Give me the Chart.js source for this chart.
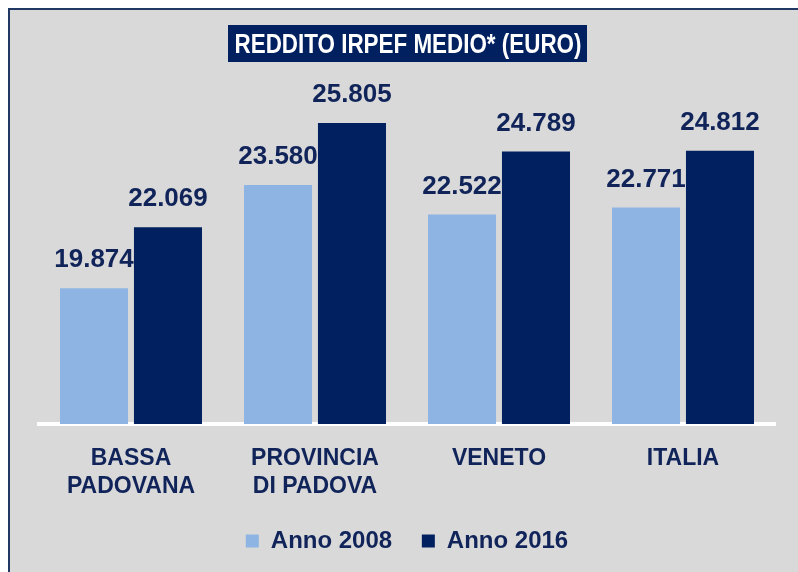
<!DOCTYPE html>
<html>
<head>
<meta charset="utf-8">
<script src="https://cdn.jsdelivr.net/npm/chart.js@4"></script>
<style>
  body { margin: 0; background: #fff; }
  #wrap { position: relative; width: 798px; height: 572px; overflow: hidden; }
  .frame {
    position: absolute; left: 8px; top: 8px; right: 0; bottom: 0;
    background: #d9d9d9;
    border-top: 2px solid #1f3864; border-left: 2px solid #1f3864;
  }
  .title {
    position: absolute; left: 228px; top: 25px; width: 359px; height: 37px;
    background: #002060; color: #fff;
    font: bold 27px "Liberation Sans", sans-serif;
    line-height: 38px; white-space: nowrap;
  }
  .title span {
    position: absolute; left: 50%; top: 0;
    transform: translateX(-50%) scaleX(0.83);
  }
  canvas { position: absolute; left: 0; top: 0; }
</style>
</head>
<body>
<div id="wrap">
  <div class="frame"></div>
  <canvas id="chart" width="798" height="572"></canvas>
  <div class="title"><span>REDDITO IRPEF MEDIO* (EURO)</span></div>
</div>
<script>
// ------ Data ------
const categories = [['BASSA', 'PADOVANA'], ['PROVINCIA', 'DI PADOVA'], 'VENETO', 'ITALIA'];
const anno2008 = [19874, 23580, 22522, 22771];
const anno2016 = [22069, 25805, 24789, 24812];
const seriesNames = ['Anno 2008', 'Anno 2016'];

const NAVY = '#002060';
const TEXT = '#10245a';
const FONT = '"Liberation Sans", Arial, sans-serif';

// 25805 -> "25.805"
function fmt(v){ return String(v).replace(/\B(?=(\d{3})+(?!\d))/g, '.'); }

// values over the bars
const valueLabels = {
  id: 'valueLabels',
  afterDatasetsDraw(chart) {
    const ctx = chart.ctx;
    ctx.save();
    ctx.font = 'bold 26px ' + FONT;
    ctx.fillStyle = TEXT;
    ctx.textAlign = 'center';
    ctx.textBaseline = 'middle';
    chart.data.datasets.forEach((ds, i) => {
      chart.getDatasetMeta(i).data.forEach((bar, j) => {
        ctx.fillText(fmt(ds.data[j]), bar.x, bar.y - 28);
      });
    });
    ctx.restore();
  }
};

new Chart(document.getElementById('chart'), {
  type: 'bar',
  data: {
    labels: categories,
    datasets: [
      { label: seriesNames[0], data: anno2008, backgroundColor: '#8db4e2' },
      { label: seriesNames[1], data: anno2016, backgroundColor: NAVY }
    ]
  },
  options: {
    responsive: false,
    animation: false,
    categoryPercentage: 0.804,
    barPercentage: 0.92,
    layout: { padding: { top: 62, left: 39, right: 23, bottom: 9 } },
    scales: {
      x: {
        grid: { display: false },
        border: { display: true, color: '#ffffff', width: 4 },
        ticks: {
          color: TEXT, padding: 13,
          font: { family: FONT, size: 23, weight: 'bold', lineHeight: 1.22 }
        },
        afterFit: s => { s.height = 94; }
      },
      y: { display: false, min: 15000, max: 28000 }
    },
    plugins: {
      legend: {
        position: 'bottom',
        labels: {
          color: TEXT, boxWidth: 13, boxHeight: 13, padding: 11,
          font: { family: FONT, size: 24, weight: 'bold' },
          // a wider gap between the two entries, like the original
          generateLabels: chart => {
            const items = Chart.defaults.plugins.legend.labels.generateLabels(chart);
            items[0].text = items[0].text + '\u2002 ';
            items.forEach(it => { it.lineWidth = 0; });
            return items;
          }
        }
      },
      tooltip: { enabled: false }
    }
  },
  plugins: [valueLabels]
});
</script>
</body>
</html>
